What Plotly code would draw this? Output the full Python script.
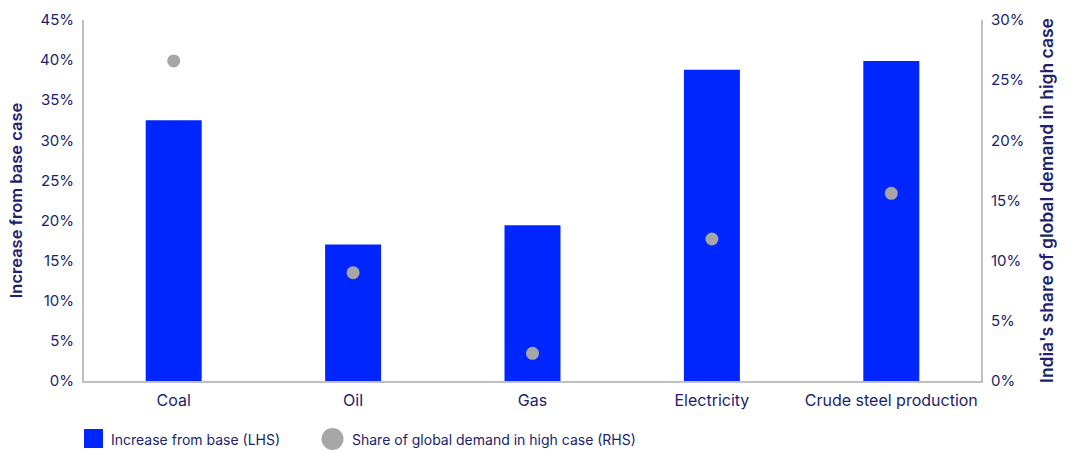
import plotly.graph_objects as go

categories = ["Coal", "Oil", "Gas", "Electricity", "Crude steel production"]
increase_from_base = [32.5, 17.0, 19.4, 38.8, 39.9]
share_of_global = [26.6, 9.0, 2.3, 11.8, 15.6]
left_ticks = [0, 5, 10, 15, 20, 25, 30, 35, 40, 45]
right_ticks = [0, 5, 10, 15, 20, 25, 30]
series_names = ["Increase from base (LHS)", "Share of global demand in high case (RHS)"]

NAVY = "#201E6E"
BLUE = "#0026FF"
GREY = "#A6A6A6"
AXIS = "#C0C0C0"
FONT = "Inter"

W, H = 1073, 451
ML, MR, MT, MB = 84, 92, 20, 70
PW, PH = W - ML - MR, H - MT - MB


def px_x(px):
    return (px - ML) / PW


def px_y(py):
    return (H - MB - py) / PH


fig = go.Figure()
fig.add_trace(go.Bar(
    x=categories, y=increase_from_base, name=series_names[0],
    marker=dict(color=BLUE, line=dict(width=0)), yaxis="y",
))
fig.add_trace(go.Scatter(
    x=categories, y=share_of_global, name=series_names[1],
    mode="markers", marker=dict(color=GREY, size=13), yaxis="y2",
))

# manual legend (below plot)
shapes = [
    dict(type="rect", xref="paper", yref="paper",
         x0=px_x(84), x1=px_x(103), y0=px_y(448), y1=px_y(429),
         fillcolor=BLUE, line=dict(width=0)),
    dict(type="circle", xref="paper", yref="paper",
         x0=px_x(321.5), x1=px_x(343.5), y0=px_y(450), y1=px_y(428),
         fillcolor=GREY, line=dict(width=0)),
]
annotations = [
    dict(text=series_names[0], xref="paper", yref="paper", x=px_x(109), y=px_y(439),
         xanchor="left", yanchor="middle", showarrow=False, font=dict(size=14, color=NAVY)),
    dict(text=series_names[1], xref="paper", yref="paper", x=px_x(350), y=px_y(439),
         xanchor="left", yanchor="middle", showarrow=False, font=dict(size=14, color=NAVY)),
]

fig.update_layout(
    width=W, height=H,
    margin=dict(l=ML, r=MR, t=MT, b=MB),
    paper_bgcolor="white", plot_bgcolor="white",
    font=dict(family=FONT, color=NAVY, size=15),
    bargap=0.688,
    showlegend=False,
    shapes=shapes,
    annotations=annotations,
    xaxis=dict(showline=True, linecolor=AXIS, linewidth=2, ticks="", showgrid=False,
               automargin=False, ticklabelstandoff=4,
               tickfont=dict(size=16, color=NAVY)),
    yaxis=dict(range=[0, 45], tickvals=left_ticks, ticktext=[f"{v}%" for v in left_ticks],
               showgrid=False, showline=True, linecolor=AXIS, linewidth=2, zeroline=False,
               ticks="", automargin=False, ticklabelstandoff=5,
               tickfont=dict(size=15, color=NAVY),
               title=dict(text="Increase from base case",
                          font=dict(size=16.5, color=NAVY, weight=600), standoff=13)),
    yaxis2=dict(range=[0, 30], tickvals=right_ticks, ticktext=[f"{v}%" for v in right_ticks],
                overlaying="y", side="right", showgrid=False, showline=True, linecolor=AXIS,
                linewidth=2, zeroline=False, ticks="", automargin=False, ticklabelstandoff=5,
                tickfont=dict(size=15, color=NAVY),
                title=dict(text="India's share of global demand in high case",
                           font=dict(size=17.5, color=NAVY, weight=600), standoff=17)),
)

fig.write_html("out.html")
